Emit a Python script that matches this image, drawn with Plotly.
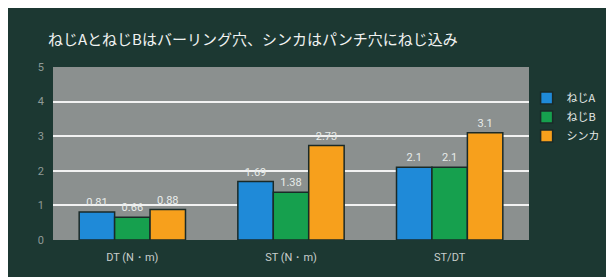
import plotly.graph_objects as go

categories = ["DT (N・m)", "ST (N・m)", "ST/DT"]
series_names = ["ねじA", "ねじB", "シンカ"]
vals_a = [0.81, 1.69, 2.1]
vals_b = [0.66, 1.38, 2.1]
vals_c = [0.88, 2.73, 3.1]
labels_a = ["0.81", "1.69", "2.1"]
labels_b = ["0.66", "1.38", "2.1"]
labels_c = ["0.88", "2.73", "3.1"]
colors = ["#1f8ad8", "#16a04e", "#f7a01c"]
y_ticks = [0, 1, 2, 3, 4, 5]

# page body margin (8px) acts as the white frame of the reference
W, H = 614, 269
ml, mr, mt, mb = 45, 93, 59, 37

fig = go.Figure()
for name, vals, labs, col in zip(series_names, [vals_a, vals_b, vals_c],
                                 [labels_a, labels_b, labels_c], colors):
    fig.add_trace(go.Bar(
        x=categories, y=vals, name=name, text=labs,
        textposition="outside", cliponaxis=False,
        textfont=dict(color="#e8ecea", size=11, family="Roboto"),
        marker=dict(color=col, line=dict(color="#1a2a28", width=1.5)),
    ))

fig.update_layout(
    width=W, height=H,
    margin=dict(l=ml, r=mr, t=mt, b=mb, autoexpand=False),
    paper_bgcolor="#1c3832",
    plot_bgcolor="#8b908f",
    barmode="group",
    bargap=0.33,
    bargroupgap=0,
    showlegend=True,
    legend=dict(x=0.995, y=0.905, xanchor="left", yanchor="top",
                font=dict(color="#e4e8e6", size=11, family="Noto Sans CJK JP"),
                bgcolor="rgba(0,0,0,0)", itemwidth=30, tracegroupgap=2),
    title=dict(text="ねじAとねじBはバーリング穴、シンカはパンチ穴にねじ込み",
               x=40 / W, xanchor="left", y=1 - 32 / H, yanchor="middle",
               font=dict(color="#f0f2f1", size=15, family="Noto Sans CJK JP")),
    font=dict(family="Noto Sans CJK JP"),
    xaxis=dict(tickfont=dict(color="#c8cecc", size=11, family="Roboto"),
               showgrid=False, ticks="", showline=False, ticklabelstandoff=9),
    yaxis=dict(range=[0, 5], tickvals=y_ticks, showgrid=True,
               gridcolor="#f2f2f2", gridwidth=2, zeroline=False,
               tickfont=dict(color="#8f9a97", size=11, family="Roboto"),
               ticks="", showline=False, ticklabelstandoff=8),
)

fig.write_html("out.html")
